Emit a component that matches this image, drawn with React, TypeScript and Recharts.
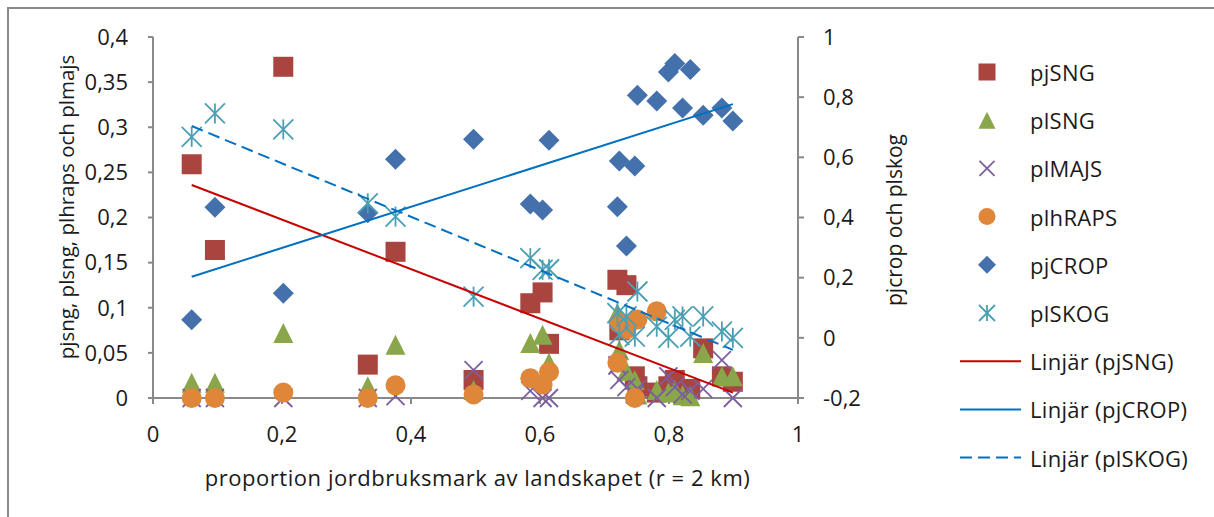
import React from 'react';
import { ScatterChart, Scatter, XAxis, YAxis } from 'recharts';

// proportion jordbruksmark (x) per site
const sites = [0.06, 0.096, 0.202, 0.333, 0.376, 0.497, 0.585, 0.604, 0.614, 0.72, 0.723, 0.734, 0.747, 0.751, 0.781, 0.799, 0.809, 0.821, 0.833, 0.853, 0.882, 0.899];

// left axis series
const pjSNG = [0.259, 0.164, 0.367, 0.037, 0.162, 0.02, 0.105, 0.117, 0.06, 0.131, 0.075, 0.125, 0.024, 0.013, 0.006, 0.013, 0.02, 0.006, 0.01, 0.055, 0.024, 0.018];
const plSNG = [0.017, 0.017, 0.072, 0.013, 0.059, 0.009, 0.061, 0.07, 0.039, 0.094, 0.053, 0.03, 0.02, 0.004, 0.009, 0.006, 0.009, 0.003, 0.002, 0.05, 0.024, 0.024];
const plMAJS = [0, 0, 0, 0, 0.002, 0.031, 0.008, 0, 0, 0.036, 0.02, 0.012, 0.004, 0.01, 0, 0.024, 0.012, 0.004, 0.008, 0.01, 0.042, 0];
const plhRAPS = [0, 0, 0.006, 0, 0.014, 0.004, 0.022, 0.015, 0.029, 0.039, 0.083, 0.076, 0, 0.087, 0.096, null, null, null, null, null, null, null];

// right axis series
const pjCROP = [0.06, 0.434, 0.148, 0.416, 0.594, 0.66, 0.445, 0.425, 0.657, 0.436, 0.588, 0.305, 0.571, 0.806, 0.787, 0.884, 0.912, 0.764, 0.892, 0.74, 0.764, 0.721];
const plSKOG = [0.668, 0.746, 0.693, 0.447, 0.403, 0.137, 0.265, 0.226, 0.228, 0.082, 0.01, 0.071, 0.004, 0.154, 0.037, 0, 0.06, 0.071, 0.004, 0.071, 0.021, 0];

// linear trendlines (Excel "Linjär"), endpoints
const trendX = [0.06, 0.899];
const trendPjSNG = [0.236, 0.006];
const trendPjCROP = [0.203, 0.777];
const trendPlSKOG = [0.704, -0.04];

const xTicks = [0, 0.2, 0.4, 0.6, 0.8, 1];
const leftTicks = [0, 0.05, 0.1, 0.15, 0.2, 0.25, 0.3, 0.35, 0.4];
const rightTicks = [-0.2, 0, 0.2, 0.4, 0.6, 0.8, 1];

const toPoints = (ys: (number | null)[], xs: number[] = sites) =>
  xs.map((x, i) => ({ x, y: ys[i] })).filter((p) => p.y !== null);

const C = {
  red: '#A9443F',
  green: '#89A64B',
  purple: '#7C5E9F',
  orange: '#DF8639',
  blue: '#4470AC',
  aqua: '#4A9FB4',
  trendRed: '#C80000',
  trendBlue: '#0070C0',
  axis: '#898989',
  text: '#1a1a1a',
};

const FONT = '"Open Sans", "Noto Sans", sans-serif';
const FS = 22;

const Square = ({ cx, cy, size = 20, fill }: any) => (
  <rect x={cx - size / 2} y={cy - size / 2} width={size} height={size} fill={fill} />
);
const Triangle = ({ cx, cy, size = 20, fill }: any) => (
  <polygon points={`${cx},${cy - size / 2} ${cx + size / 2},${cy + size / 2} ${cx - size / 2},${cy + size / 2}`} fill={fill} />
);
const Cross = ({ cx, cy, size = 18, stroke }: any) => {
  const h = size / 2;
  return (
    <g stroke={stroke} strokeWidth={1.8}>
      <line x1={cx - h} y1={cy - h} x2={cx + h} y2={cy + h} />
      <line x1={cx - h} y1={cy + h} x2={cx + h} y2={cy - h} />
    </g>
  );
};
const Dot = ({ cx, cy, size = 20, fill }: any) => <circle cx={cx} cy={cy} r={size / 2} fill={fill} />;
const Diamond = ({ cx, cy, size = 21, fill }: any) => (
  <polygon points={`${cx},${cy - size / 2} ${cx + size / 2},${cy} ${cx},${cy + size / 2} ${cx - size / 2},${cy}`} fill={fill} />
);
const Asterisk = ({ cx, cy, size = 20, stroke }: any) => {
  const h = size / 2;
  return (
    <g stroke={stroke} strokeWidth={1.8}>
      <line x1={cx - h} y1={cy - h} x2={cx + h} y2={cy + h} />
      <line x1={cx - h} y1={cy + h} x2={cx + h} y2={cy - h} />
      <line x1={cx} y1={cy - h} x2={cx} y2={cy + h} />
    </g>
  );
};
const NoShape = () => <g />;

const fmt = (v: number) => String(v).replace('.', ',');

const legendItems = [
  { name: 'pjSNG', kind: 'square', color: C.red },
  { name: 'plSNG', kind: 'triangle', color: C.green },
  { name: 'plMAJS', kind: 'cross', color: C.purple },
  { name: 'plhRAPS', kind: 'dot', color: C.orange },
  { name: 'pjCROP', kind: 'diamond', color: C.blue },
  { name: 'plSKOG', kind: 'asterisk', color: C.aqua },
  { name: 'Linjär (pjSNG)', kind: 'line', color: C.trendRed },
  { name: 'Linjär (pjCROP)', kind: 'line', color: C.trendBlue },
  { name: 'Linjär (plSKOG)', kind: 'dash', color: C.trendBlue },
];

const LegendBox = () => (
  <svg width={260} height={517} style={{ position: 'absolute', left: 954, top: 0 }}>
    {legendItems.map((it, i) => {
      const cy = 72 + i * 48.2;
      const mx = 33;
      let marker: React.ReactNode = null;
      if (it.kind === 'square') marker = <Square cx={mx} cy={cy} size={17} fill={it.color} />;
      if (it.kind === 'triangle') marker = <Triangle cx={mx} cy={cy} size={17} fill={it.color} />;
      if (it.kind === 'cross') marker = <Cross cx={mx} cy={cy} size={15} stroke={it.color} />;
      if (it.kind === 'dot') marker = <Dot cx={mx} cy={cy} size={17} fill={it.color} />;
      if (it.kind === 'diamond') marker = <Diamond cx={mx} cy={cy} size={18} fill={it.color} />;
      if (it.kind === 'asterisk') marker = <Asterisk cx={mx} cy={cy} size={16} stroke={it.color} />;
      if (it.kind === 'line' || it.kind === 'dash')
        marker = (
          <line x1={6} y1={cy} x2={67} y2={cy} stroke={it.color} strokeWidth={2}
            strokeDasharray={it.kind === 'dash' ? '12 6' : undefined} />
        );
      return (
        <g key={it.name}>
          {marker}
          <text x={76} y={cy} dominantBaseline="central" fontFamily={FONT} fontSize={FS} letterSpacing={0.3} fill={C.text}>
            {it.name}
          </text>
        </g>
      );
    })}
  </svg>
);

const tickStyle = { fontFamily: FONT, fontSize: FS, fill: C.text };

export default function App() {
  return (
    <div style={{ position: 'absolute', left: 0, top: 0, width: 1214, height: 517, background: '#fff', overflow: 'hidden' }}>
      <div style={{ position: 'absolute', left: 7, top: 7, width: 1207, height: 510, borderTop: `2px solid ${C.axis}`, borderLeft: `2px solid ${C.axis}`, boxSizing: 'border-box' }} />
      <div style={{ position: 'absolute', left: 0, top: 0 }}>
        <ScatterChart width={1214} height={517} margin={{ top: 37, right: 316, bottom: 59, left: 53 }}>
          <XAxis
            type="number"
            dataKey="x"
            domain={[0, 1]}
            ticks={xTicks}
            tickFormatter={fmt}
            stroke={C.axis}
            strokeWidth={2}
            tickSize={6}
            tickMargin={22}
            tick={tickStyle}
            height={60}
            label={{
              content: ({ viewBox }: any) => (
                <text x={viewBox.x + viewBox.width / 2 + 2} y={477} textAnchor="middle" dominantBaseline="central"
                  fontFamily={FONT} fontSize={FS} letterSpacing={0.55} fill={C.text}>
                  proportion jordbruksmark av landskapet (r = 2 km)
                </text>
              ),
            }}
          />
          <YAxis
            yAxisId="left"
            type="number"
            dataKey="y"
            domain={[0, 0.4]}
            ticks={leftTicks}
            tickFormatter={fmt}
            stroke={C.axis}
            strokeWidth={2}
            tickSize={5}
            tickMargin={20}
            tick={tickStyle}
            width={100}
            label={{
              content: () => (
                <text x={66} y={207} transform="rotate(-90 66 207)" textAnchor="middle" dominantBaseline="central"
                  fontFamily={FONT} fontSize={20.5} fill={C.text}>
                  pjsng, plsng, plhraps och plmajs
                </text>
              ),
            }}
          />
          <YAxis
            yAxisId="right"
            orientation="right"
            type="number"
            dataKey="y"
            domain={[-0.2, 1]}
            ticks={rightTicks}
            tickFormatter={fmt}
            stroke={C.axis}
            strokeWidth={2}
            tickSize={6}
            tickMargin={19}
            tick={{ ...tickStyle, textAnchor: 'start' }}
            width={100}
            label={{
              content: () => (
                <text x={894} y={220} transform="rotate(-90 894 220)" textAnchor="middle" dominantBaseline="central"
                  fontFamily={FONT} fontSize={21} fill={C.text}>
                  pjcrop och plskog
                </text>
              ),
            }}
          />

          <Scatter yAxisId="left" data={toPoints(pjSNG)} fill={C.red} isAnimationActive={false}
            shape={(p: any) => <Square cx={p.cx} cy={p.cy} fill={C.red} />} />
          <Scatter yAxisId="left" data={toPoints(plSNG)} fill={C.green} isAnimationActive={false}
            shape={(p: any) => <Triangle cx={p.cx} cy={p.cy} fill={C.green} />} />
          <Scatter yAxisId="left" data={toPoints(plMAJS)} fill={C.purple} isAnimationActive={false}
            shape={(p: any) => <Cross cx={p.cx} cy={p.cy} stroke={C.purple} />} />
          <Scatter yAxisId="left" data={toPoints(plhRAPS)} fill={C.orange} isAnimationActive={false}
            shape={(p: any) => <Dot cx={p.cx} cy={p.cy} fill={C.orange} />} />
          <Scatter yAxisId="right" data={toPoints(pjCROP)} fill={C.blue} isAnimationActive={false}
            shape={(p: any) => <Diamond cx={p.cx} cy={p.cy} fill={C.blue} />} />
          <Scatter yAxisId="right" data={toPoints(plSKOG)} fill={C.aqua} isAnimationActive={false}
            shape={(p: any) => <Asterisk cx={p.cx} cy={p.cy} stroke={C.aqua} />} />

          <Scatter yAxisId="left" data={toPoints(trendPjSNG, trendX)} isAnimationActive={false}
            line={{ stroke: C.trendRed, strokeWidth: 2 }} lineType="joint" shape={NoShape} />
          <Scatter yAxisId="right" data={toPoints(trendPjCROP, trendX)} isAnimationActive={false}
            line={{ stroke: C.trendBlue, strokeWidth: 2 }} lineType="joint" shape={NoShape} />
          <Scatter yAxisId="right" data={toPoints(trendPlSKOG, trendX)} isAnimationActive={false}
            line={{ stroke: C.trendBlue, strokeWidth: 2, strokeDasharray: '12 6' }} lineType="joint" shape={NoShape} />
        </ScatterChart>
      </div>
      <LegendBox />
    </div>
  );
}
